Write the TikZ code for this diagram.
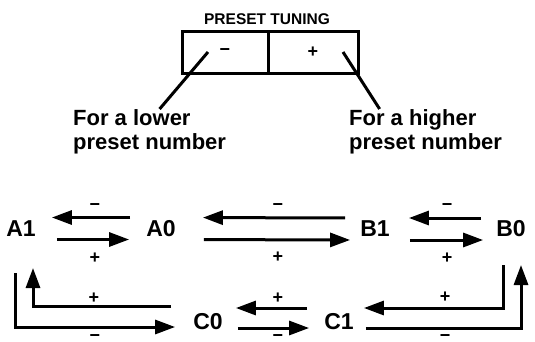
\documentclass[tikz,border=0pt]{standalone}
\usepackage{fontspec}
\setmainfont{Liberation Sans}
\usetikzlibrary{arrows.meta, positioning}
\tikzset{
  preset/.style={font=\bfseries\fontsize{23}{24}\selectfont, inner sep=0pt},
  sign/.style={font=\bfseries\fontsize{18}{18}\selectfont, inner sep=0pt},
  bar/.style={sign, text height=6.5pt, text depth=-3.5pt},
  note/.style={font=\bfseries\fontsize{22}{24}\selectfont, align=left, inner sep=0pt},
  heavy/.style={line width=3pt},
  push/.style={heavy, -{Triangle[length=20pt,width=14pt]}},
  key/.style={draw, heavy, minimum height=42pt, inner sep=0pt, outer sep=0pt, font=\bfseries\fontsize{18}{18}\selectfont},
}
\begin{document}
\begin{tikzpicture}[x=1pt, y=-1pt]
    \useasboundingbox (0,0) rectangle (535,341);

    % ===== Preset tuning buttons =====
    \node[font=\bfseries\fontsize{15.5}{16}\selectfont, inner sep=0pt] (title) at (267,19) {PRESET TUNING};
    \node[key, minimum width=86pt] (down) at (225,52) {−};
    \node[key, minimum width=90pt, anchor=west] (up) at (down.east) {+};

    % Notes under the buttons
    \node[note, anchor=north west] (lownote) at (73,109) {For a lower\\preset number};
    \node[note, anchor=north west] (highnote) at (349,109) {For a higher\\preset number};
    \coordinate (downtip) at (208,52);
    \coordinate (uptip) at (343,52);
    \draw[heavy] (downtip) -- ([xshift=10pt]lownote.north);
    \draw[heavy] (uptip) -- ([xshift=-46pt]highnote.north);

    % ===== Preset numbers =====
    \node[preset] (A1) at (21,228.5) {A1};
    \node[preset] (A0) at (161,228.5) {A0};
    \node[preset] (B1) at (375,229) {B1};
    \node[preset] (B0) at (511,229) {B0};
    \node[preset] (C0) at (208,322) {C0};
    \node[preset] (C1) at (339,322) {C1};

    % Top row
    \draw[push, shorten <=16pt, shorten >=16pt] ([yshift=11pt]A0.west) -- ([yshift=11pt]A1.east);
    \draw[push, shorten <=21pt, shorten >=17pt] ([yshift=-11pt]A1.east) -- ([yshift=-11pt]A0.west);
    \draw[push, shorten <=15pt, shorten >=27pt] ([yshift=11pt]B1.west) -- ([yshift=11pt]A0.east);
    \draw[push, shorten <=28pt, shorten >=10pt] ([yshift=-11pt]A0.east) -- ([yshift=-11pt]B1.west);
    \draw[push, shorten <=15pt, shorten >=19pt] ([yshift=11pt]B0.west) -- ([yshift=11pt]B1.east);
    \draw[push, shorten <=20pt, shorten >=13pt] ([yshift=-11pt]B1.east) -- ([yshift=-11pt]B0.west);

    % Bottom row
    \draw[push, shorten <=17pt, shorten >=13pt] ([yshift=14pt]C1.west) -- ([yshift=14pt]C0.east);
    \draw[push, shorten <=15pt, shorten >=15pt] ([yshift=-6pt]C0.east) -- ([yshift=-6pt]C1.west);

    % Side loops
    \coordinate (A1drop) at (15,273);
    \coordinate (A1rise) at (33,268);
    \coordinate (B0drop) at (503,265);
    \coordinate (B0rise) at (521,265);
    \draw[push] (A1drop) |- ([xshift=-18pt, yshift=-5pt]C0.west);
    \draw[push] ([xshift=-22pt, yshift=16pt]C0.west) -| (A1rise);
    \draw[push] (B0drop) |- ([xshift=10pt, yshift=14pt]C1.east);
    \draw[push] ([xshift=12pt, yshift=-6pt]C1.east) -| (B0rise);

    % Signs on the arrows
    \node[bar] (mAA) at (95,207) {−};
    \node[sign] (pAA) at (95,258) {+};
    \node[bar] (mAB) at (278,207) {−};
    \node[sign] (pAB) at (278,257) {+};
    \node[bar] (mBB) at (447,207) {−};
    \node[sign] (pBB) at (447,258) {+};
    \node[sign] (pAC) at (94,298) {+};
    \node[sign] (pCC) at (278,298) {+};
    \node[sign] (pCB) at (445,297) {+};
    \node[bar] (mAC) at (95,338.5) {−};
    \node[bar] (mCC) at (278,338.5) {−};
    \node[bar] (mCB) at (445,338.5) {−};
\end{tikzpicture}
\end{document}
